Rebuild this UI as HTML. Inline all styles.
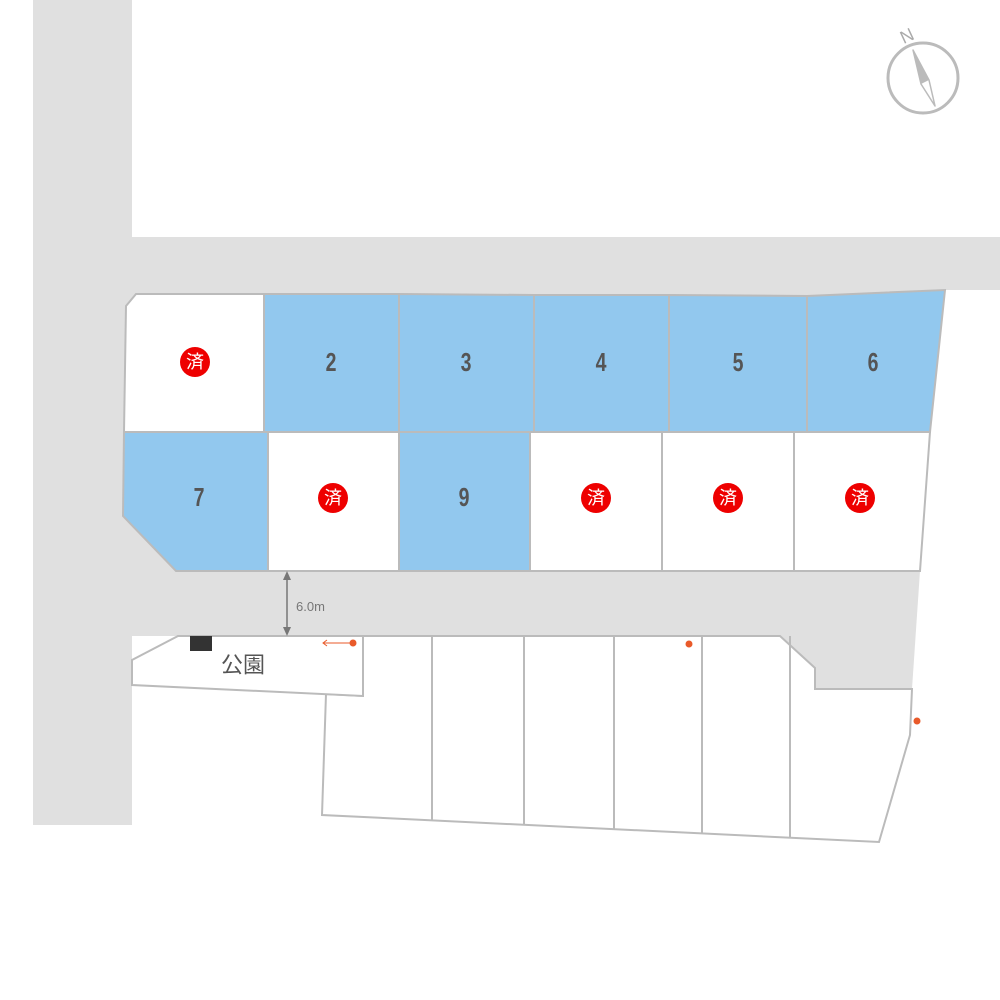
<!DOCTYPE html>
<html><head><meta charset="utf-8"><style>
html,body{margin:0;padding:0;background:#fff;width:1000px;height:1000px;overflow:hidden}
svg{display:block}
.s{font-family:"Liberation Sans","Noto Sans CJK JP",sans-serif;font-size:18px;fill:#fff;text-anchor:middle;dominant-baseline:central}
</style></head><body>
<svg width="1000" height="1000" viewBox="0 0 1000 1000" xmlns="http://www.w3.org/2000/svg">
<rect x="33" y="0" width="99" height="825" fill="#e0e0e0"/>
<rect x="132" y="237" width="868" height="53" fill="#e0e0e0"/>
<polygon points="132,290 945,290 930,432 920,571 912,689 815,689 815,668 780,636 132,636" fill="#e0e0e0"/>
<g stroke="#bbb" stroke-width="2">
<polygon points="136,294 264,294 264,432 124,432 126,306" fill="#fff"/>
<polygon points="264,294 399,294 399,432 264,432" fill="#92c8ee"/>
<polygon points="399,294 534,295 534,432 399,432" fill="#92c8ee"/>
<polygon points="534,295 669,295 669,432 534,432" fill="#92c8ee"/>
<polygon points="669,295 807,296 807,432 669,432" fill="#92c8ee"/>
<polygon points="807,296 945,290 930,432 807,432" fill="#92c8ee"/>
<polygon points="124,432 268,432 268,571 176,571 123,516" fill="#92c8ee"/>
<polygon points="268,432 399,432 399,571 268,571" fill="#fff"/>
<polygon points="399,432 530,432 530,571 399,571" fill="#92c8ee"/>
<polygon points="530,432 662,432 662,571 530,571" fill="#fff"/>
<polygon points="662,432 794,432 794,571 662,571" fill="#fff"/>
<polygon points="794,432 930,432 920,571 794,571" fill="#fff"/>
</g>
<g stroke="#bbb" stroke-width="2" fill="#fff">
<polygon points="363,636 780,636 815,668 815,689 912,689 910,735 879,842 322,815 326,694 363,696"/>
<line x1="432" y1="636" x2="432" y2="820"/>
<line x1="524" y1="636" x2="524" y2="825"/>
<line x1="614" y1="636" x2="614" y2="829"/>
<line x1="702" y1="636" x2="702" y2="834"/>
<line x1="790" y1="636" x2="790" y2="838"/>
<polygon points="178,636 363,636 363,696 132,685 132,660"/>
</g>
<rect x="190" y="636" width="22" height="15" fill="#333"/>
<text x="243" y="665" font-family="'Liberation Sans','Noto Sans CJK JP',sans-serif" font-size="22" fill="#555" text-anchor="middle" dominant-baseline="central">公園</text>
<line x1="287" y1="574" x2="287" y2="633" stroke="#777" stroke-width="1.5"/>
<polygon points="287,571 283,580 291,580" fill="#777"/>
<polygon points="287,636 283,627 291,627" fill="#777"/>
<text x="296" y="611" font-family="'Liberation Sans',sans-serif" font-size="13" fill="#777">6.0m</text>
<line x1="323" y1="643" x2="353" y2="643" stroke="#e95a2a" stroke-width="1"/>
<polyline points="327,640 323,643 327,646" fill="none" stroke="#e95a2a" stroke-width="1"/>
<circle cx="353" cy="643" r="3.5" fill="#e95a2a"/>
<circle cx="689" cy="644" r="3.5" fill="#e95a2a"/>
<circle cx="917" cy="721" r="3.5" fill="#e95a2a"/>
<g font-family="'Liberation Sans',sans-serif" font-size="26" font-weight="bold" fill="#555" text-anchor="middle">
<text transform="translate(331,371) scale(0.75,1)">2</text>
<text transform="translate(466,371) scale(0.75,1)">3</text>
<text transform="translate(601,371) scale(0.75,1)">4</text>
<text transform="translate(738,371) scale(0.75,1)">5</text>
<text transform="translate(873,371) scale(0.75,1)">6</text>
<text transform="translate(199,506) scale(0.75,1)">7</text>
<text transform="translate(464,506) scale(0.75,1)">9</text>
</g>
<g>
<circle cx="195" cy="362" r="15" fill="#e00"/><text class="s" x="195" y="362">済</text>
<circle cx="333" cy="498" r="15" fill="#e00"/><text class="s" x="333" y="498">済</text>
<circle cx="596" cy="498" r="15" fill="#e00"/><text class="s" x="596" y="498">済</text>
<circle cx="728" cy="498" r="15" fill="#e00"/><text class="s" x="728" y="498">済</text>
<circle cx="860" cy="498" r="15" fill="#e00"/><text class="s" x="860" y="498">済</text>
</g>
<circle cx="923" cy="78" r="35" fill="none" stroke="#bbb" stroke-width="3"/>
<polygon points="913,50 921,84 929,80" fill="#bbb"/>
<polygon points="913,50 921,84 935,106 929,80" fill="none" stroke="#bbb" stroke-width="1.5" stroke-linejoin="round"/>
<text x="907" y="42" font-family="'Liberation Sans',sans-serif" font-size="18" fill="#aaa" text-anchor="middle" transform="rotate(-25 907 36)">N</text>
</svg>
</body></html>
